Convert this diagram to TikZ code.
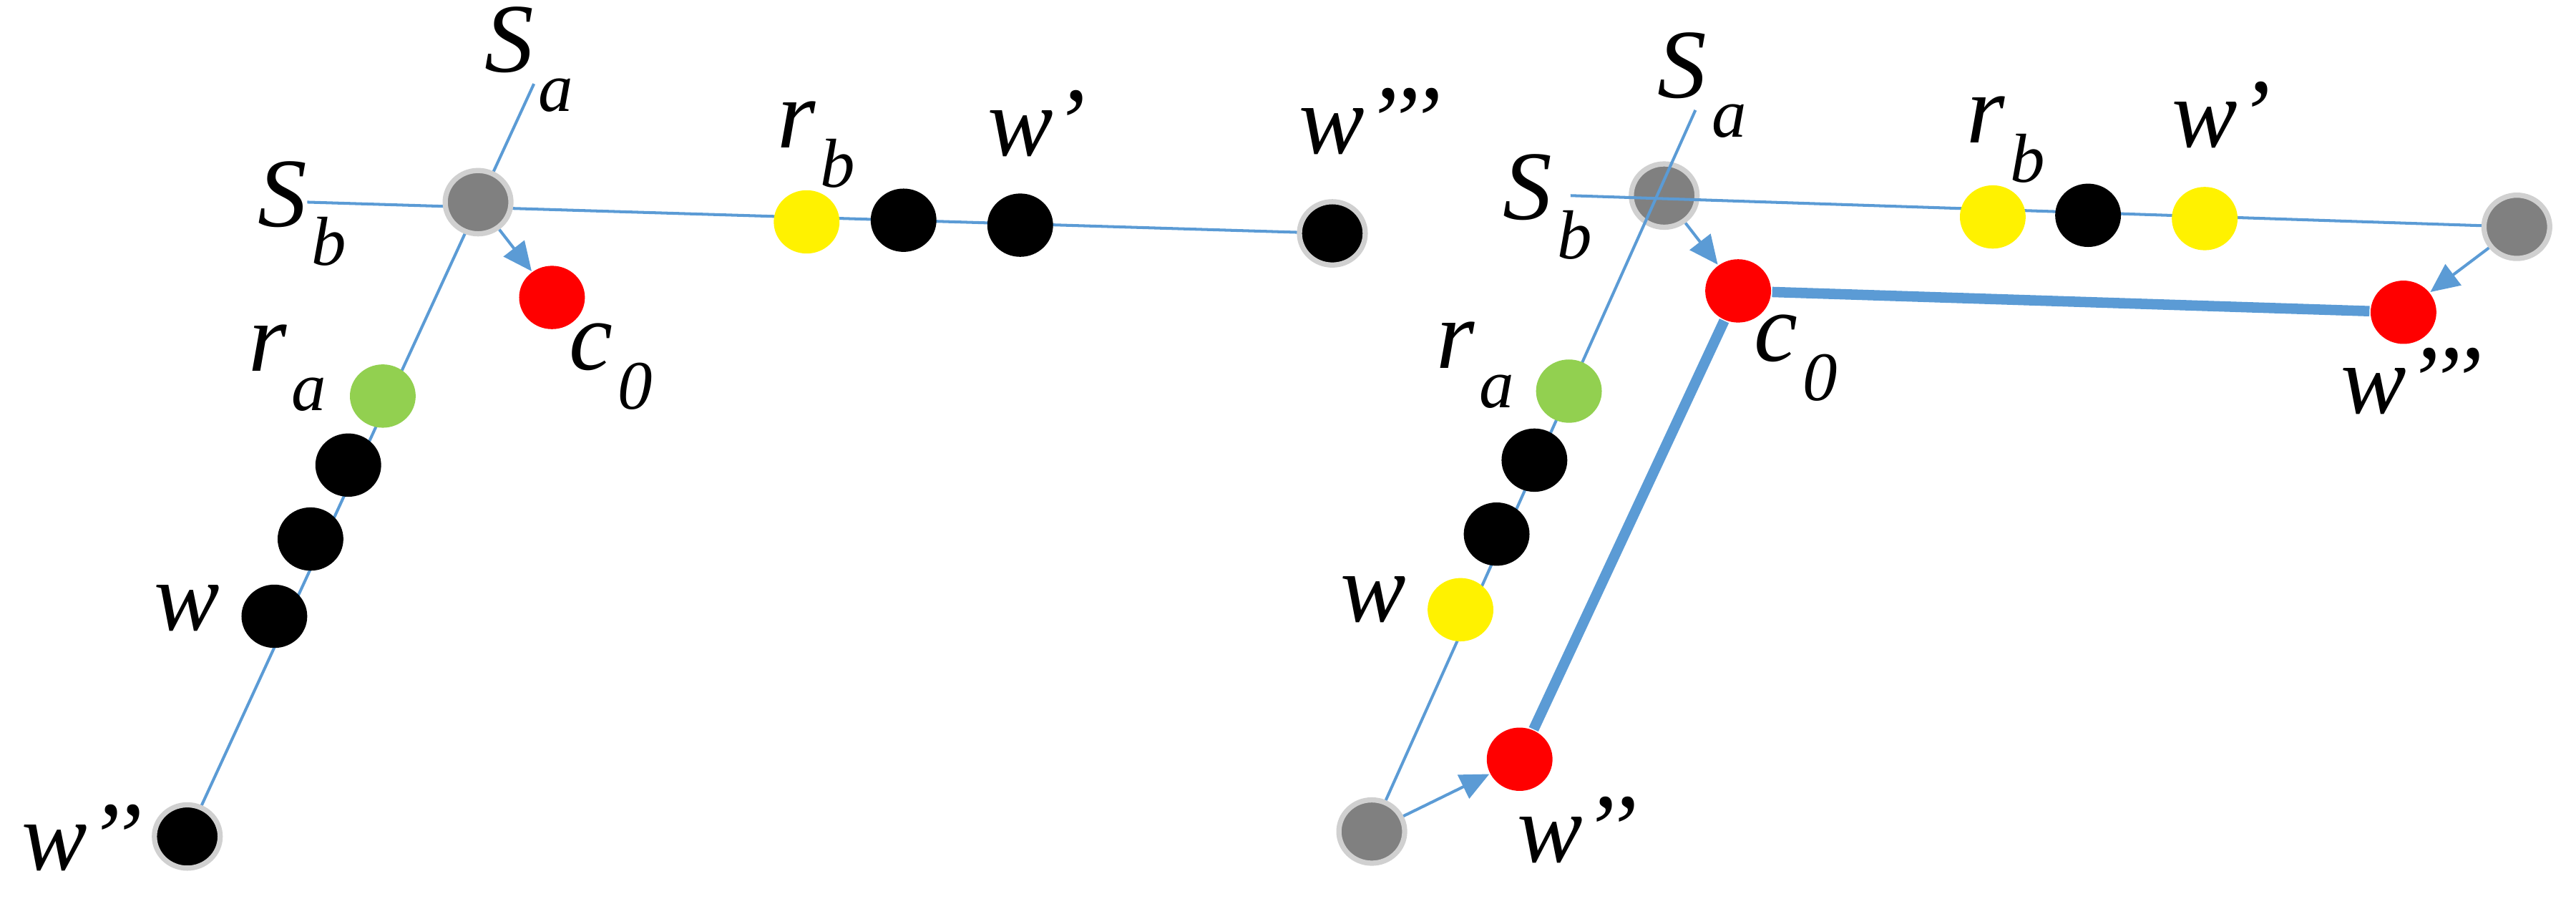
\documentclass[tikz,border=0pt]{standalone}
\usepackage{fontspec}
\setmainfont{Liberation Serif}
\usetikzlibrary{shapes.geometric,arrows.meta}
\definecolor{lblue}{HTML}{5B9BD5}
\definecolor{lgreen}{HTML}{92D050}
\definecolor{lgray}{HTML}{808080}
\definecolor{rim}{HTML}{D0D0D0}
\newcommand{\lab}[2]{\itshape #1\kern0.05em\raisebox{-0.4em}{\fontsize{12}{12}\selectfont #2}}
\tikzset{
  dot/.style={ellipse,minimum width=0.40cm,minimum height=0.385cm,inner sep=0pt},
  blk/.style={dot,fill=black},
  blkr/.style={dot,fill=black,draw=rim,line width=0.9pt},
  gry/.style={dot,fill=lgray,draw=rim,line width=0.9pt},
  yel/.style={dot,fill=yellow},
  grn/.style={dot,fill=lgreen},
  rd/.style={dot,fill=red},
  lbl/.style={font=\fontsize{17}{17}\selectfont\itshape,inner sep=0pt},
  thin/.style={draw=lblue,line width=0.5pt},
  thick/.style={draw=lblue,line width=1.8pt},
  arr/.style={draw=lblue,line width=0.5pt,-{Triangle[length=5pt,width=4.5pt]}}
}
\begin{document}
\begin{tikzpicture}[x=0.01cm,y=-0.01cm]
\useasboundingbox (0,0) rectangle (1568,550);
% ---------- left panel
\coordinate (Lat) at (325,51);
\coordinate (Lbt) at (187,123);
\draw[thin] (Lat) -- (114,509);
\draw[thin] (Lbt) -- (811,142);
\node[gry] (LS) at (291,123) {};
\node[yel] (Lrb) at (491,135) {};
\node[blk] (Lb1) at (550,134) {};
\node[blk] (Lwp) at (621,137) {};
\node[blkr] (Lw3) at (811,142) {};
\node[rd] (Lc0) at (336,181) {};
\node[grn] (Lra) at (233,241) {};
\node[blk] (La1) at (212,283) {};
\node[blk] (La2) at (189,328) {};
\node[blk] (Lw) at (167,375) {};
\node[blkr] (Lw2) at (114,509) {};
\draw[arr] (LS) -- (Lc0);
\node[lbl] (tLSa) at (322,36) {\lab{S}{a}};
\node[lbl] (tLSb) at (184,130) {\lab{S}{b}};
\node[lbl] (tLrb) at (497,88) {\lab{r}{b}};
\node[lbl] (tLwp) at (631,75) {w’};
\node[lbl] (tLw3) at (834,74) {w’’’};
\node[lbl] (tLc0) at (372,223) {\lab{c}{0}};
\node[lbl] (tLra) at (175,224) {\lab{r}{a}};
\node[lbl] (tLw) at (114,370) {w};
\node[lbl] (tLw2) at (50,510) {w’’};
% ---------- right panel
\coordinate (Rat) at (1032,67);
\coordinate (Rbt) at (956,119);
\node[gry] (RS) at (1013,119) {};
\node[gry] (RE) at (1532,138) {};
\node[gry] (RB) at (835,506) {};
\draw[thin] (Rat) -- (RB);
\draw[thin] (Rbt) -- (RE);
\node[yel] (Rrb) at (1213,132) {};
\node[blk] (Rb1) at (1271,131) {};
\node[yel] (Rwp) at (1342,133) {};
\node[rd] (Rc0) at (1058,177) {};
\node[rd] (Rw3) at (1463,190) {};
\node[rd] (Rw2) at (925,462) {};
\node[grn] (Rra) at (955,238) {};
\node[blk] (Ra1) at (934,280) {};
\node[blk] (Ra2) at (911,325) {};
\node[yel] (Rw) at (889,371) {};
\draw[thick] (Rc0) -- (Rw3);
\draw[thick] (Rc0) -- (Rw2);
\draw[arr] (RS) -- (Rc0);
\draw[arr] (RE) -- (Rw3);
\draw[arr] (RB) -- (Rw2);
\node[lbl] (tRSa) at (1036,52) {\lab{S}{a}};
\node[lbl] (tRSb) at (942,126) {\lab{S}{b}};
\node[lbl] (tRrb) at (1221,85) {\lab{r}{b}};
\node[lbl] (tRwp) at (1352,70) {w’};
\node[lbl] (tRw3) at (1468,232) {w’’’};
\node[lbl] (tRc0) at (1093,218) {\lab{c}{0}};
\node[lbl] (tRra) at (898,222) {\lab{r}{a}};
\node[lbl] (tRw) at (836,365) {w};
\node[lbl] (tRw2) at (960,505) {w’’};
\end{tikzpicture}
\end{document}
